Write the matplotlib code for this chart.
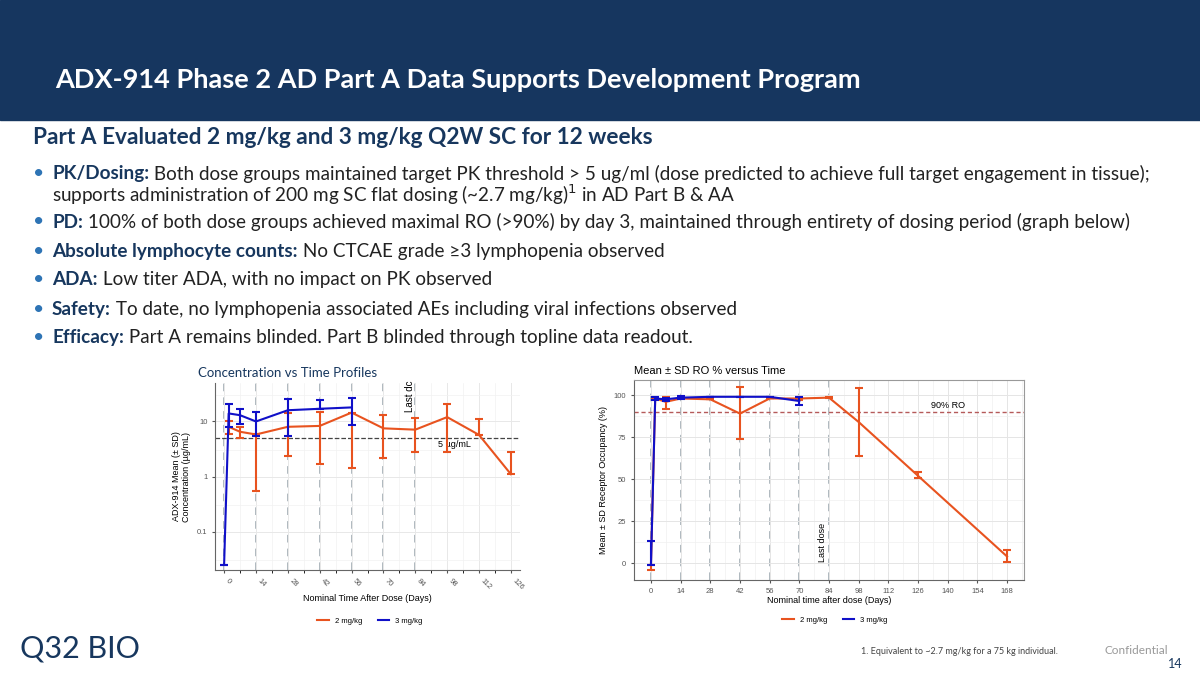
import numpy as np
import matplotlib.pyplot as plt
from matplotlib.patches import Rectangle

plt.rcParams['font.family'] = ['Lato', 'DejaVu Sans']

NAVY = "#17375e"
ORANGE = "#e8531f"
BLUE = "#1010c8"
CHART_FONT = ['Liberation Sans', 'DejaVu Sans']

# PK data (ug/mL)
pk_days_2 = [2, 7, 14, 28, 42, 56, 70, 84, 98, 112, 126]
pk_mean_2 = [8.0, 6.5, 5.8, 8.0, 8.3, 14.5, 7.5, 7.1, 12.0, 5.7, 1.1]
pk_lo_2 = [6.0, 5.0, 0.55, 2.4, 1.7, 1.4, 2.2, 2.8, 2.8, 5.7, 1.1]
pk_hi_2 = [10.0, 8.0, 5.8, 14.0, 15.0, 14.5, 13.0, 11.5, 21.0, 11.0, 2.8]
pk_days_3 = [0, 2, 7, 14, 28, 42, 56]
pk_mean_3 = [0.025, 14.0, 13.0, 10.0, 16.0, 17.0, 18.0]
pk_lo_3 = [0.025, 8.0, 9.0, 5.5, 5.5, 17.0, 8.5]
pk_hi_3 = [0.025, 21.0, 17.0, 15.0, 26.0, 25.0, 27.0]

# RO data (%)
ro_days_2 = [0, 2, 7, 14, 28, 42, 56, 70, 84, 98, 126, 168]
ro_mean_2 = [-1, 98, 96, 98, 97.5, 89, 98, 98, 98.5, 84, 52, 4]
ro_lo_2 = [-4, 98, 92, 98, 97.5, 74, 98, 97, 98, 64, 50.5, 0.5]
ro_hi_2 = [-1, 98, 99, 98, 97.5, 105, 98, 99, 99, 104, 54, 8]
ro_days_3 = [0, 2, 7, 14, 28, 42, 56, 70]
ro_mean_3 = [-1, 98, 97.5, 98.5, 99, 99, 99, 96.5]
ro_lo_3 = [-1, 97, 96.5, 97.5, 99, 99, 99, 94]
ro_hi_3 = [13, 99, 98.5, 99.5, 99, 99, 99, 99]

dose_days = [0, 14, 28, 42, 56, 70, 84]

fig = plt.figure(figsize=(12, 6.75), dpi=100)

# header band
fig.patches.append(Rectangle((0, 1 - 120 / 675), 1, 120 / 675, transform=fig.transFigure,
                             color="#16365f", zorder=0))
fig.text(55 / 1200, 1 - 80 / 675, "ADX-914 Phase 2 AD Part A Data Supports Development Program",
         color="white", fontsize=19.5, fontweight="bold", va="center")
fig.text(33 / 1200, 1 - 138 / 675, "Part A Evaluated 2 mg/kg and 3 mg/kg Q2W SC for 12 weeks",
         color=NAVY, fontsize=16.3, fontweight="bold", va="center")

FS = 13.6
bullets = [
    ("PK/Dosing:", " Both dose groups maintained target PK threshold > 5 ug/ml (dose predicted to achieve full target engagement in tissue);", 174),
    (None, "supports administration of 200 mg SC flat dosing (~2.7 mg/kg)$^1$ in AD Part B & AA", 195),
    ("PD:", " 100% of both dose groups achieved maximal RO (>90%) by day 3, maintained through entirety of dosing period (graph below)", 222),
    ("Absolute lymphocyte counts:", " No CTCAE grade \u22653 lymphopenia observed", 251),
    ("ADA:", " Low titer ADA, with no impact on PK observed", 280),
    ("Safety:", " To date, no lymphopenia associated AEs including viral infections observed", 309),
    ("Efficacy:", " Part A remains blinded. Part B blinded through topline data readout.", 338),
]
for head, rest, y in bullets:
    yf = 1 - y / 675
    if head is None:
        fig.text(52 / 1200, yf, rest, fontsize=FS, color="#222222", va="center")
        continue
    fig.text(33 / 1200, yf, "\u2022", fontsize=14, color="#2e74b5", va="center")
    t = fig.text(52 / 1200, yf, head, fontsize=FS, fontweight="bold", color=NAVY, va="center")
    fig.canvas.draw()
    bb = t.get_window_extent()
    fig.text(bb.x1 / 1200, yf, rest, fontsize=FS, color="#222222", va="center")

fig.text(198 / 1200, 1 - 373 / 675, "Concentration vs Time Profiles", fontsize=9.5, color=NAVY, va="center")


def style_axes(ax):
    ax.set_facecolor("white")
    for s in ["top", "right"]:
        ax.spines[s].set_visible(False)
    for s in ["left", "bottom"]:
        ax.spines[s].set_color("#666666")
    ax.tick_params(labelsize=5.5, colors="#555555", length=2)
    for d in dose_days:
        ax.axvline(d, color="#9aa6ae", ls=(0, (5, 4)), lw=1.1, zorder=1)


# left PK chart
ax1 = fig.add_axes([215 / 1200, 1 - 570 / 675, 305 / 1200, 187 / 675])
style_axes(ax1)
ax1.set_yscale("log")
ax1.set_ylim(0.02, 50)
ax1.set_xlim(-4, 130)
ax1.set_yticks([0.1, 1, 10])
ax1.set_yticklabels(["0.1", "1", "10"])
ax1.set_yticks([0.03, 0.3, 3, 30], minor=True)
ax1.set_yticklabels([], minor=True)
ax1.tick_params(axis="y", which="minor", length=0)
ax1.set_xticks(range(0, 127, 14))
ax1.set_xticks(range(7, 127, 14), minor=True)
ax1.grid(True, which="major", color="#e8e8e8", lw=0.7, zorder=0)
ax1.grid(True, which="minor", color="#f2f2f2", lw=0.5, zorder=0)
ax1.tick_params(axis="x", labelrotation=-45)
for lab in ax1.get_xticklabels() + ax1.get_yticklabels():
    lab.set_family(CHART_FONT)
for lab in ax1.get_xticklabels():
    lab.set_ha("left")
ax1.axhline(5, color="#444444", ls="--", lw=0.9, zorder=2)
ax1.text(101, 4.6, "5 \u00b5g/mL", fontsize=6.5, va="top", ha="center", family=CHART_FONT)
ax1.text(84, 55, "Last dc", rotation=90, fontsize=7, va="top", ha="right", family=CHART_FONT)
for days, m, lo, hi, c in [(pk_days_2, pk_mean_2, pk_lo_2, pk_hi_2, ORANGE),
                           (pk_days_3, pk_mean_3, pk_lo_3, pk_hi_3, BLUE)]:
    m = np.array(m)
    ax1.plot(days, m, color=c, lw=1.5, zorder=3)
    ax1.errorbar(days, m, yerr=[m - np.array(lo), np.array(hi) - m], fmt="none",
                 ecolor=c, elinewidth=1.5, capsize=3, capthick=1.5, zorder=3)
ax1.set_xlabel("Nominal Time After Dose (Days)", fontsize=6.5, labelpad=2, family=CHART_FONT)
ax1.set_ylabel("ADX-914 Mean (\u00b1 SD)\nConcentration (\u00b5g/mL)", fontsize=6.5, family=CHART_FONT)
fig.legend(handles=[plt.Line2D([], [], color=ORANGE, lw=1.5), plt.Line2D([], [], color=BLUE, lw=1.5)],
           labels=["2 mg/kg", "3 mg/kg"], loc="center", bbox_to_anchor=(370 / 1200, 1 - 621 / 675),
           ncol=2, frameon=False, prop={"size": 5.5, "family": CHART_FONT}, handlelength=1.5)

# right RO chart
fig.text(634 / 1200, 1 - 371 / 675, "Mean \u00b1 SD RO % versus Time", fontsize=8, va="center", family=CHART_FONT)
ax2 = fig.add_axes([634 / 1200, 1 - 580 / 675, 390 / 1200, 200 / 675])
style_axes(ax2)
ax2.spines["top"].set_visible(True)
ax2.spines["right"].set_visible(True)
ax2.spines["top"].set_color("#999999")
ax2.spines["right"].set_color("#999999")
ax2.set_xlim(-8, 176)
ax2.set_ylim(-10, 109)
ax2.set_xticks(range(0, 169, 14))
ax2.set_xticks(range(7, 176, 7), minor=True)
ax2.set_yticks([0, 25, 50, 75, 100])
ax2.set_yticks([12.5, 37.5, 62.5, 87.5], minor=True)
ax2.tick_params(which="minor", length=0)
ax2.grid(True, which="major", color="#e5e5e5", lw=0.7, zorder=0)
ax2.grid(True, which="minor", color="#f0f0f0", lw=0.5, zorder=0)
for lab in ax2.get_xticklabels() + ax2.get_yticklabels():
    lab.set_family(CHART_FONT)
ax2.axhline(90, color="#b55a5a", ls=(0, (3, 2)), lw=1.0, zorder=2)
ax2.text(140, 91, "90% RO", fontsize=6.5, va="bottom", ha="center", family=CHART_FONT)
ax2.text(83, 1, "Last dose", rotation=90, fontsize=6.5, va="bottom", ha="right", family=CHART_FONT)
for days, m, lo, hi, c in [(ro_days_2, ro_mean_2, ro_lo_2, ro_hi_2, ORANGE),
                           (ro_days_3, ro_mean_3, ro_lo_3, ro_hi_3, BLUE)]:
    m = np.array(m, dtype=float)
    ax2.plot(days, m, color=c, lw=1.5, zorder=3)
    ax2.errorbar(days, m, yerr=[m - np.array(lo), np.array(hi) - m], fmt="none",
                 ecolor=c, elinewidth=1.5, capsize=3, capthick=1.5, zorder=3)
ax2.set_xlabel("Nominal time after dose (Days)", fontsize=6.5, labelpad=1, family=CHART_FONT)
ax2.set_ylabel("Mean \u00b1 SD Receptor Occupancy (%)", fontsize=6.5, family=CHART_FONT)
fig.legend(handles=[plt.Line2D([], [], color=ORANGE, lw=1.5), plt.Line2D([], [], color=BLUE, lw=1.5)],
           labels=["2 mg/kg", "3 mg/kg"], loc="center", bbox_to_anchor=(835 / 1200, 1 - 620 / 675),
           ncol=2, frameon=False, prop={"size": 5.5, "family": CHART_FONT}, handlelength=1.5)

# footer
fig.text(20 / 1200, 1 - 648 / 675, "Q32 BIO", fontsize=22, color=NAVY, va="center")
fig.text(1058 / 1200, 1 - 652 / 675, "1. Equivalent to ~2.7 mg/kg for a 75 kg individual.",
         fontsize=6.5, color="#444444", ha="right", va="center")
fig.text(1168 / 1200, 1 - 650 / 675, "Confidential", fontsize=8.5, color="#999999", ha="right", va="center")
fig.text(1183 / 1200, 1 - 664 / 675, "14", fontsize=9, color=NAVY, ha="right", va="center")

fig.savefig("out.png", dpi=100)
